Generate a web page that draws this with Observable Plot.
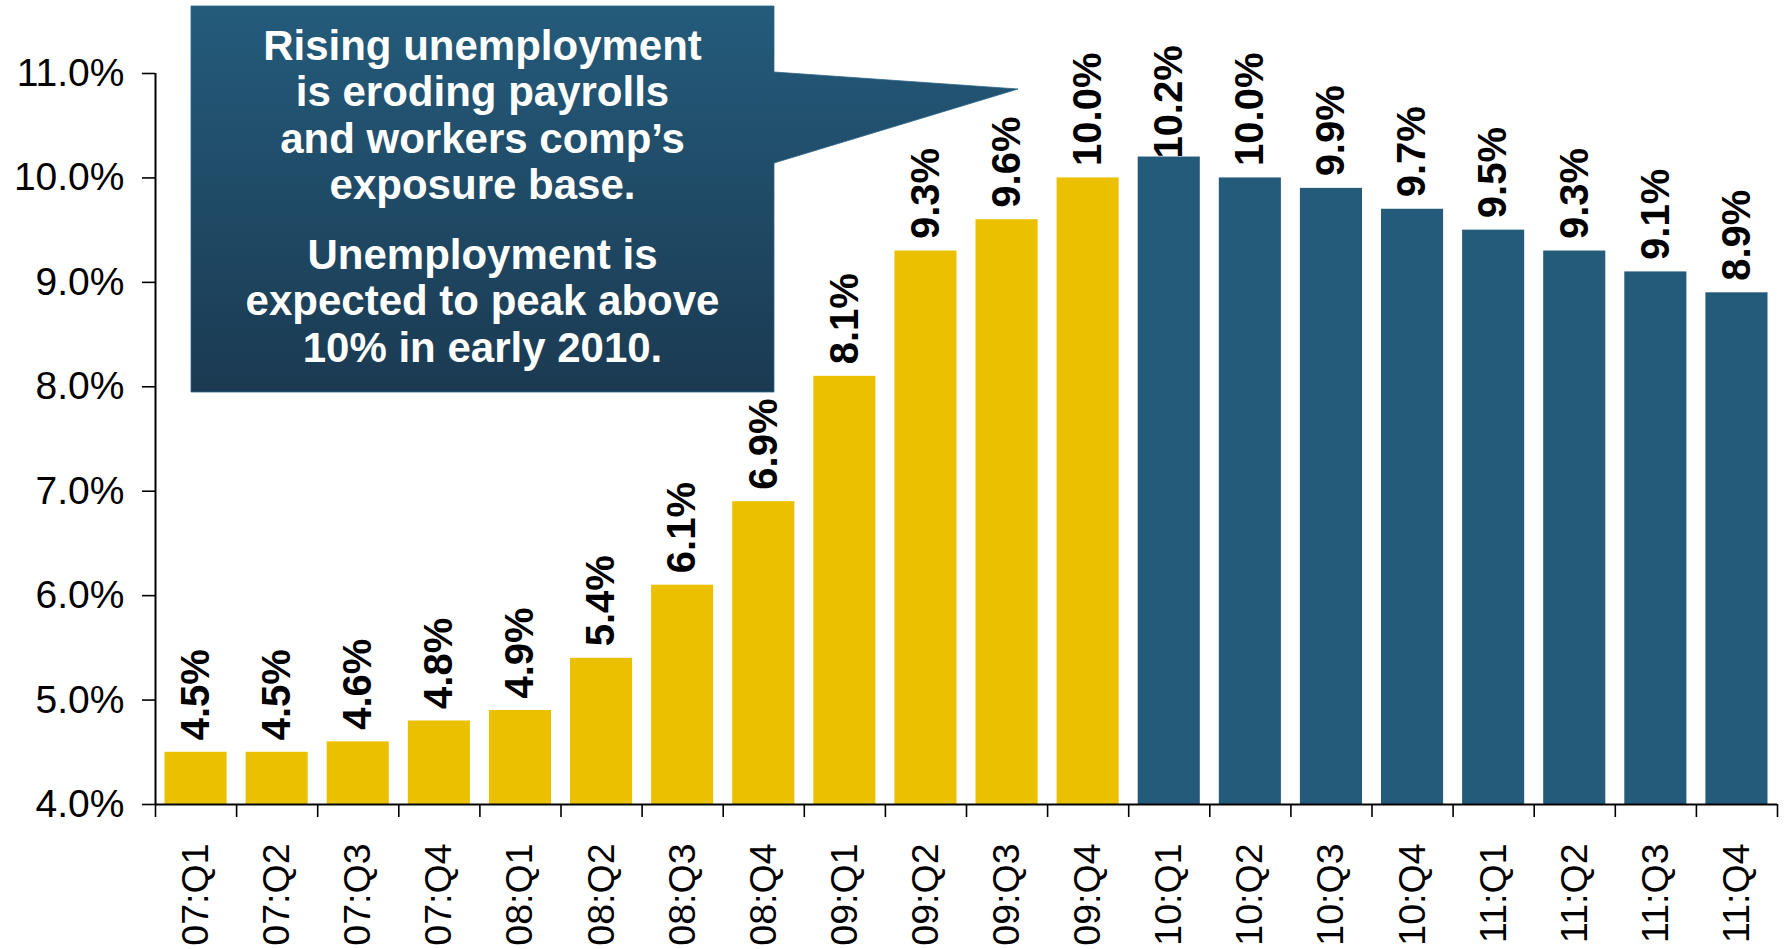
<!DOCTYPE html>
<html>
<head>
<meta charset="utf-8">
<script src="https://cdn.jsdelivr.net/npm/d3@7"></script>
<script src="https://cdn.jsdelivr.net/npm/@observablehq/plot@0.6"></script>
<style>
  html, body { margin: 0; padding: 0; background: #ffffff; }
  #chart { position: relative; width: 1785px; height: 949px; }
</style>
</head>
<body>
<div id="chart"></div>
<script>
// ---- data ----
const quarters = ["07:Q1","07:Q2","07:Q3","07:Q4","08:Q1","08:Q2","08:Q3","08:Q4",
                  "09:Q1","09:Q2","09:Q3","09:Q4","10:Q1","10:Q2","10:Q3","10:Q4",
                  "11:Q1","11:Q2","11:Q3","11:Q4"];
const rates = [4.5, 4.5, 4.6, 4.8, 4.9, 5.4, 6.1, 6.9, 8.1, 9.3, 9.6, 10.0,
               10.2, 10.0, 9.9, 9.7, 9.5, 9.3, 9.1, 8.9];
const kind = ["actual","actual","actual","actual","actual","actual","actual","actual",
              "actual","actual","actual","actual","forecast","forecast","forecast","forecast",
              "forecast","forecast","forecast","forecast"];
const yTicks = [4, 5, 6, 7, 8, 9, 10, 11];
const calloutLines = [
  ["Rising unemployment", "is eroding payrolls", "and workers comp\u2019s", "exposure base."],
  ["Unemployment is", "expected to peak above", "10% in early 2010."]
];

// ---- styles ----
const FONT = "'Liberation Sans', Arial, Helvetica, sans-serif";
const YELLOW = "#EBC000";
const BLUE = "#245B7A";

const idx = d3.range(quarters.length);
const labelCeiling = 10.07; // labels are kept inside the frame like the original

const chart = Plot.plot({
  width: 1785,
  height: 949,
  marginLeft: 155,
  marginRight: 8,
  marginTop: 73,
  marginBottom: 145,
  style: { fontFamily: FONT, fontSize: "38px", color: "#000", background: "#fff", overflow: "visible" },
  x: { type: "linear", domain: [0, quarters.length], axis: null },
  y: { domain: [4, 11], axis: null },
  color: { domain: ["actual", "forecast"], range: [YELLOW, BLUE] },
  marks: [
    Plot.rectY(idx, {
      x1: i => i, x2: i => i + 1, y1: 4, y2: i => rates[i],
      fill: i => kind[i], insetLeft: 9.5, insetRight: 9.5
    }),
    Plot.axisY({
      ticks: yTicks, tickFormat: d => d.toFixed(1) + "%", tickSize: 13, tickPadding: 18,
      fontSize: 39, strokeWidth: 1.6, label: null
    }),
    Plot.axisX({
      ticks: d3.range(quarters.length + 1), tickFormat: () => "", tickSize: 13,
      strokeWidth: 1.6, label: null
    }),
    Plot.ruleX([0], { y1: 4, y2: 11, strokeWidth: 2 }),
    Plot.ruleY([4], { x1: 0, x2: quarters.length, strokeWidth: 2 }),
    Plot.text(idx, {
      x: i => i + 0.5, y: 4, text: i => quarters[i], rotate: -90,
      textAnchor: "end", lineAnchor: "middle", dy: 39, fontSize: 37.5
    }),
    Plot.text(idx, {
      x: i => i + 0.5, y: i => Math.min(rates[i], labelCeiling),
      text: i => rates[i].toFixed(1) + "%", rotate: -90,
      textAnchor: "start", lineAnchor: "middle", dy: -12,
      fontSize: 40, fontWeight: "bold"
    })
  ]
});

document.getElementById("chart").appendChild(chart);

// ---- callout box (annotation) ----
const svg = d3.select(chart);
const defs = svg.append("defs");
const grad = defs.append("linearGradient")
  .attr("id", "calloutGrad").attr("x1", 0).attr("y1", 0).attr("x2", 0).attr("y2", 1);
grad.append("stop").attr("offset", "0%").attr("stop-color", "#245B7B");
grad.append("stop").attr("offset", "100%").attr("stop-color", "#1B3A52");

const box = { left: 191, right: 774, top: 6, bottom: 392 };
const ptr = { y1: 72, tipX: 1018, tipY: 89, y2: 163 };
const g = svg.append("g");
g.append("path")
  .attr("d", `M${box.left},${box.top}H${box.right}V${ptr.y1}L${ptr.tipX},${ptr.tipY}L${box.right},${ptr.y2}V${box.bottom}H${box.left}Z`)
  .attr("fill", "url(#calloutGrad)")
  .attr("stroke", "#2d6688").attr("stroke-width", 0.8);

const cx = (box.left + box.right) / 2;
const baselines = [[60, 106, 153, 199], [269, 315, 362]];
calloutLines.forEach((para, p) => {
  para.forEach((line, j) => {
    g.append("text")
      .attr("x", cx).attr("y", baselines[p][j])
      .attr("text-anchor", "middle")
      .attr("fill", "#fff")
      .attr("font-family", FONT)
      .attr("font-weight", "bold")
      .attr("font-size", 42)
      .text(line);
  });
});
</script>
</body>
</html>
